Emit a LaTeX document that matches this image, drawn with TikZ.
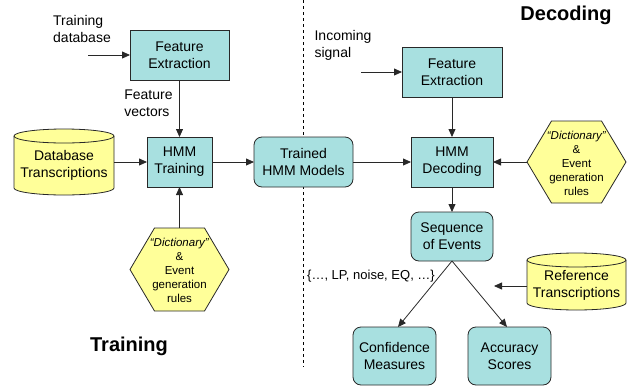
\documentclass[tikz,border=0pt]{standalone}
\usepackage{fontspec}
\setmainfont{Liberation Sans}
\usetikzlibrary{arrows.meta,backgrounds}
\definecolor{boxteal}{RGB}{168,224,224}
\definecolor{dbyellow}{RGB}{255,255,153}
\definecolor{edge}{RGB}{40,40,40}

\begin{document}
\begin{tikzpicture}[x=1pt,y=-1pt,
  every node/.style={inner sep=0pt, outer sep=0pt},
  txt/.style={font=\fontsize{14}{17}\selectfont, align=center},
  smalltxt/.style={font=\fontsize{11.5}{14}\selectfont, align=center},
  lefttxt/.style={font=\fontsize{14}{17}\selectfont, align=left},
  process/.style={txt, draw=edge, fill=boxteal, line width=0.8pt},
  result/.style={process, rounded corners=8pt},
  frame/.style={},
  shapefill/.style={draw=edge, fill=dbyellow, line width=0.8pt},
  title/.style={font=\fontsize{20}{24}\selectfont\bfseries},
  flow/.style={-{Triangle[length=8pt,width=7pt]}, line width=0.8pt, draw=edge},
  divider/.style={dash pattern=on 3pt off 3pt, line width=0.7pt},
]
\useasboundingbox (0,0) rectangle (633,389);

% dividing line between the two halves
\draw[divider] (303,0) -- (303,367);

% training side
\node[process, minimum width=99pt, minimum height=50pt] (feL) at (179.5,55) {Feature\\Extraction};
\node[process, minimum width=65pt, minimum height=50pt] (train) at (179.5,162) {HMM\\Training};
\node[result, minimum width=99pt, minimum height=50pt] (models) at (303.5,162) {Trained\\HMM Models};
\node[frame, minimum width=100pt, minimum height=66pt] (db) at (64,162) {};
\node[txt] (dbtext) at (64,165) {Database\\Transcriptions};
\node[frame, minimum width=99pt, minimum height=83pt] (dictL) at (179.5,269.5) {};
\node[smalltxt] (dictLtext) at (179.5,270) {\textit{“Dictionary”}\\\&\\Event\\generation\\rules};

\node[lefttxt] (trdb) at (82,29) {Training\\database};
\node[lefttxt] (fvec) at (148.5,103) {Feature\\vectors};
\node[title] (trainhead) at (129,346) {Training};
\coordinate (trin) at (88,55);

% decoding side
\node[process, minimum width=100pt, minimum height=50pt] (feR) at (452,72) {Feature\\Extraction};
\node[process, minimum width=82pt, minimum height=50pt] (decode) at (452,162) {HMM\\Decoding};
\node[result, minimum width=82pt, minimum height=49pt] (seq) at (452,236.5) {Sequence\\of Events};
\node[result, minimum width=83pt, minimum height=58pt] (conf) at (394.5,356) {Confidence\\Measures};
\node[result, minimum width=83pt, minimum height=58pt] (acc) at (509.5,356) {Accuracy\\Scores};
\node[frame, minimum width=99pt, minimum height=82pt] (dictR) at (576.5,162) {};
\node[smalltxt] (dictRtext) at (576.5,163) {\textit{“Dictionary”}\\\&\\Event\\generation\\rules};
\node[frame, minimum width=99pt, minimum height=57pt] (ref) at (576.5,281.5) {};
\node[txt] (reftext) at (576.5,285.5) {Reference\\Transcriptions};

\node[lefttxt] (insig) at (343,45) {Incoming\\signal};
\node[font=\fontsize{13}{16}\selectfont] (events) at (371,276) {\{…, LP, noise, EQ, …\}};
\node[title] (dechead) at (566,15) {Decoding};
\coordinate (decin) at (361,72);
\coordinate (refend) at (494,286);

% yellow stores and rule sets
\begin{scope}[on background layer]
  \foreach \c/\r in {db/50pt,ref/49.5pt}{
    \filldraw[shapefill] ([yshift=-7pt]\c.north west) -- ([yshift=7pt]\c.south west)
      arc[start angle=180, end angle=360, x radius=\r, y radius=7pt]
      -- ([yshift=-7pt]\c.north east)
      arc[start angle=0, end angle=180, x radius=\r, y radius=7pt] -- cycle;
    \draw[shapefill, fill=none] ([yshift=-7pt]\c.north west)
      arc[start angle=180, end angle=360, x radius=\r, y radius=7pt];
  }
  \foreach \h in {dictL,dictR}{
    \filldraw[shapefill] (\h.west) -- ([xshift=24.5pt]\h.north west)
      -- ([xshift=-24.5pt]\h.north east) -- (\h.east)
      -- ([xshift=-24.5pt]\h.south east) -- ([xshift=24.5pt]\h.south west) -- cycle;
  }
\end{scope}

% connectors
\draw[flow] (trin) -- (feL);
\draw[flow] (feL) -- (train);
\draw[flow] (db) -- (train);
\draw[flow] (dictL) -- (train);
\draw[flow] (train) -- (models);
\draw[flow] (models) -- (decode);
\draw[flow] (decin) -- (feR);
\draw[flow] (feR) -- (decode);
\draw[flow] (dictR) -- (decode);
\draw[flow] (decode) -- (seq);
\draw[flow] (seq.south) -- ([xshift=3.5pt]conf.north);
\draw[flow] (seq.south) -- ([xshift=-2.5pt]acc.north);
\draw[flow] (ref.west |- refend) -- (refend);
\end{tikzpicture}
\end{document}
